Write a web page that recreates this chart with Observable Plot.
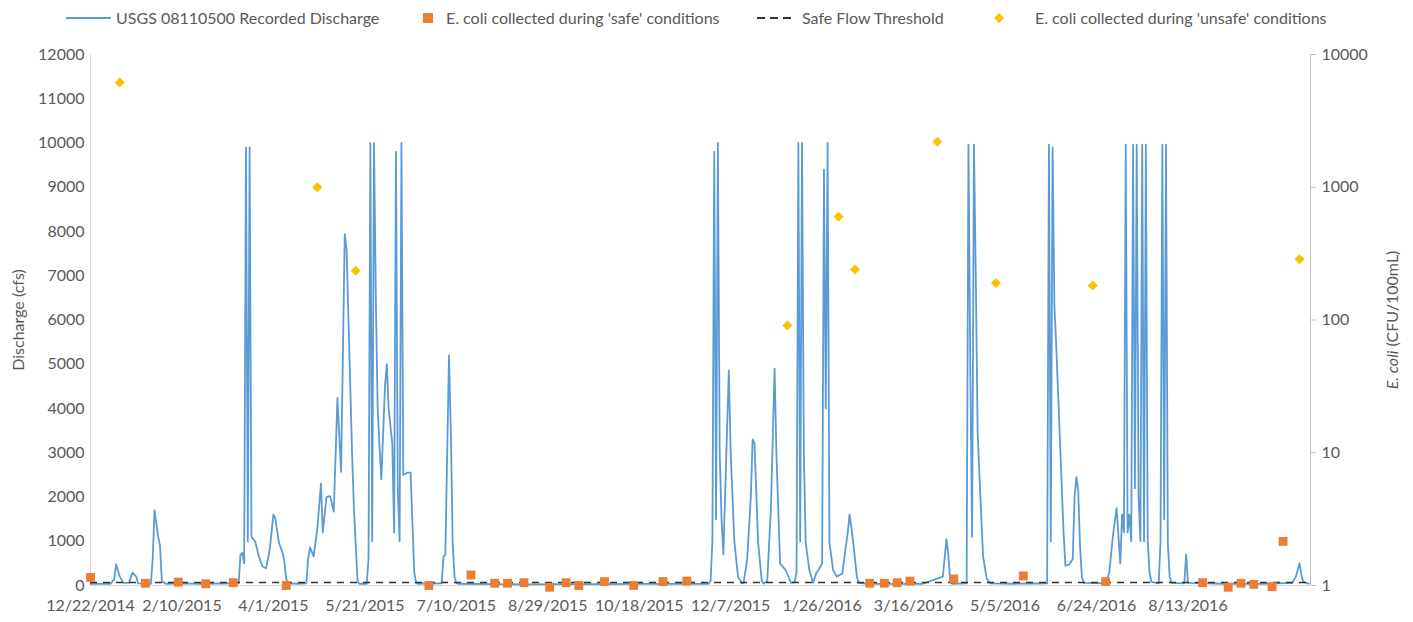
<!DOCTYPE html>
<html><head><meta charset="utf-8">
<script src="https://cdn.jsdelivr.net/npm/d3@7"></script>
<script src="https://cdn.jsdelivr.net/npm/@observablehq/plot@0.6"></script>
<style>
body{margin:0;background:#fff;font-family:Lato,sans-serif;color:#595959;}
#wrap{position:relative;width:1413px;height:622px;overflow:hidden;}
#legend{position:relative;height:36px;width:1413px;font-size:16px;}
.li{position:absolute;top:0;height:36px;line-height:36px;white-space:nowrap;}
#chart svg{display:block;}
</style></head><body>
<div id="wrap"><div id="legend"></div><div id="chart"></div></div>
<script>
// ---------- data ----------
const dischargeDates = ["2014-12-22","2014-12-27","2015-01-02","2015-01-04","2015-01-05","2015-01-07","2015-01-09","2015-01-12","2015-01-14","2015-01-16","2015-01-17","2015-01-24","2015-01-25","2015-01-26","2015-01-28","2015-01-29","2015-01-30","2015-02-01","2015-02-10","2015-02-20","2015-03-02","2015-03-13","2015-03-14","2015-03-15","2015-03-16","2015-03-17","2015-03-18","2015-03-19","2015-03-20","2015-03-22","2015-03-24","2015-03-26","2015-03-28","2015-03-30","2015-04-01","2015-04-02","2015-04-04","2015-04-06","2015-04-07","2015-04-08","2015-04-09","2015-04-14","2015-04-19","2015-04-20","2015-04-21","2015-04-23","2015-04-25","2015-04-27","2015-04-28","2015-04-30","2015-05-02","2015-05-04","2015-05-06","2015-05-08","2015-05-10","2015-05-11","2015-05-14","2015-05-15","2015-05-17","2015-05-18","2015-05-22","2015-05-23","2015-05-24","2015-05-25","2015-05-26","2015-05-27","2015-05-28","2015-05-29","2015-05-30","2015-06-01","2015-06-02","2015-06-03","2015-06-05","2015-06-06","2015-06-07","2015-06-08","2015-06-09","2015-06-10","2015-06-11","2015-06-13","2015-06-15","2015-06-17","2015-06-18","2015-06-19","2015-06-25","2015-07-02","2015-07-03","2015-07-04","2015-07-06","2015-07-07","2015-07-08","2015-07-09","2015-07-10","2015-07-11","2015-07-30","2015-08-19","2015-09-08","2015-09-28","2015-10-18","2015-11-07","2015-11-25","2015-11-26","2015-11-27","2015-11-28","2015-11-29","2015-11-30","2015-12-01","2015-12-02","2015-12-03","2015-12-05","2015-12-06","2015-12-07","2015-12-09","2015-12-11","2015-12-13","2015-12-14","2015-12-16","2015-12-18","2015-12-19","2015-12-20","2015-12-22","2015-12-24","2015-12-25","2015-12-27","2015-12-29","2015-12-31","2016-01-01","2016-01-02","2016-01-03","2016-01-06","2016-01-09","2016-01-11","2016-01-12","2016-01-13","2016-01-14","2016-01-15","2016-01-16","2016-01-17","2016-01-19","2016-01-21","2016-01-23","2016-01-24","2016-01-26","2016-01-27","2016-01-28","2016-01-29","2016-01-30","2016-02-01","2016-02-03","2016-02-06","2016-02-09","2016-02-10","2016-02-11","2016-02-12","2016-02-14","2016-02-15","2016-02-20","2016-03-06","2016-03-21","2016-04-01","2016-04-03","2016-04-04","2016-04-05","2016-04-06","2016-04-14","2016-04-15","2016-04-16","2016-04-17","2016-04-18","2016-04-19","2016-04-20","2016-04-21","2016-04-23","2016-04-25","2016-04-27","2016-05-10","2016-05-20","2016-05-28","2016-05-29","2016-05-30","2016-05-31","2016-06-01","2016-06-02","2016-06-04","2016-06-06","2016-06-07","2016-06-09","2016-06-11","2016-06-12","2016-06-13","2016-06-14","2016-06-15","2016-06-16","2016-06-17","2016-06-29","2016-07-01","2016-07-03","2016-07-05","2016-07-07","2016-07-08","2016-07-09","2016-07-10","2016-07-11","2016-07-12","2016-07-13","2016-07-14","2016-07-15","2016-07-16","2016-07-17","2016-07-18","2016-07-19","2016-07-20","2016-07-21","2016-07-22","2016-07-23","2016-07-24","2016-07-28","2016-07-29","2016-07-30","2016-07-31","2016-08-01","2016-08-02","2016-08-03","2016-08-04","2016-08-11","2016-08-12","2016-08-13","2016-09-02","2016-09-22","2016-10-09","2016-10-11","2016-10-13","2016-10-14","2016-10-15","2016-10-18"];
const dischargeValues = [40,35,40,150,480,200,60,60,290,200,50,40,600,1700,1100,900,100,40,50,35,45,50,700,740,500,9900,1000,9900,1100,1000,660,430,390,820,1600,1520,970,740,545,150,50,40,50,600,860,660,1280,2300,1200,2000,2020,1670,4240,2570,7940,7600,3000,1750,100,40,40,600,10000,1000,10000,6500,4000,3150,2400,4500,5000,4000,3200,1200,9800,2200,1000,10000,2500,2550,2550,300,60,40,45,50,660,700,5200,3500,970,200,60,40,30,25,30,30,35,35,40,100,1000,9800,1500,10000,3000,1500,700,3500,4860,3000,1000,200,60,50,580,2000,3300,3230,970,100,40,100,1750,4900,3000,1750,500,350,60,80,300,10000,1000,10000,3000,970,350,60,300,350,500,9400,4000,10000,970,350,200,270,1200,1600,1300,970,200,60,40,35,40,200,1050,700,100,40,50,9960,4900,1100,9960,7000,3500,2500,660,150,50,40,45,50,9960,1000,9900,6300,5400,3300,1200,450,470,600,2000,2450,2140,900,200,60,50,300,1130,1750,500,1600,1200,9960,1200,1600,1000,9960,2200,9960,2000,1000,9960,1000,9960,1000,300,80,50,1000,9960,1500,9960,970,200,60,50,700,60,40,35,60,200,500,250,80,40];

const safeDates = ["2014-12-22","2015-01-21","2015-02-08","2015-02-23","2015-03-10","2015-04-08","2015-06-25","2015-07-18","2015-07-31","2015-08-07","2015-08-16","2015-08-30","2015-09-08","2015-09-15","2015-09-29","2015-10-15","2015-10-31","2015-11-13","2016-02-21","2016-02-29","2016-03-07","2016-03-14","2016-04-07","2016-05-15","2016-06-29","2016-08-21","2016-09-04","2016-09-11","2016-09-18","2016-09-28","2016-10-04"];
const safeEcoli = [1.15,1.04,1.06,1.03,1.05,1.0,1.0,1.2,1.04,1.04,1.05,0.97,1.05,1.0,1.07,1.0,1.07,1.08,1.04,1.04,1.05,1.08,1.12,1.18,1.07,1.05,0.97,1.04,1.02,0.98,2.15];

const unsafeDates = ["2015-01-07","2015-04-25","2015-05-16","2016-01-07","2016-02-04","2016-02-13","2016-03-29","2016-04-30","2016-06-22","2016-10-13"];
const unsafeEcoli = [6150,1000,235,91,600,240,2200,190,182,287];

const safeFlowThreshold = 70;
const xTickLabels = ["12/22/2014","2/10/2015","4/1/2015","5/21/2015","7/10/2015","8/29/2015","10/18/2015","12/7/2015","1/26/2016","3/16/2016","5/5/2016","6/24/2016","8/13/2016"];
const dischargeTicks = [0,1000,2000,3000,4000,5000,6000,7000,8000,9000,10000,11000,12000];
const ecoliTicks = [1,10,100,1000,10000];
const xDomain = ["2014-12-22","2016-10-19"];

// ---------- build ----------
const parse = d3.utcParse("%m/%d/%Y");
const fmt = d3.utcFormat("%-m/%-d/%Y");
const toDate = s => new Date(s + "T00:00:00Z");
const discharge = dischargeDates.map((d, i) => ({date: toDate(d), q: dischargeValues[i]}));
const safe = safeDates.map((d, i) => ({date: toDate(d), e: safeEcoli[i]}));
const unsafe = unsafeDates.map((d, i) => ({date: toDate(d), e: unsafeEcoli[i]}));
// the right (log) axis shares the frame: 1 -> 0, 10000 -> 12000
const ecoliToLeft = e => Math.log10(e) * 3000;

const plot = Plot.plot({
  width: 1413, height: 586,
  marginLeft: 90, marginRight: 103, marginTop: 18, marginBottom: 37,
  style: {fontFamily: "Lato, sans-serif", fontSize: "16px", color: "#595959", background: "white", overflow: "visible"},
  x: {type: "utc", domain: xDomain.map(toDate)},
  y: {domain: [0, 12000]},
  marks: [
    Plot.ruleY([0], {stroke: "#d9d9d9"}),
    Plot.ruleX([toDate(xDomain[0])], {y1: 0, y2: 12000, stroke: "#d9d9d9"}),
    Plot.ruleX([toDate(xDomain[1])], {y1: 0, y2: 12000, stroke: "#bfbfbf"}),
    Plot.axisY({anchor: "left", ticks: dischargeTicks, tickFormat: d => String(d), tickSize: 0, tickPadding: 6, label: null}),
    Plot.axisY({anchor: "right", ticks: ecoliTicks.map(ecoliToLeft), tickFormat: d => String(ecoliTicks[Math.round(d / 3000)]), tickSize: 5, tickPadding: 6, stroke: "#bfbfbf", label: null}),
    Plot.axisX({ticks: xTickLabels.map(parse), tickFormat: fmt, tickSize: 0, tickPadding: 14, label: null}),
    Plot.line(discharge, {x: "date", y: "q", stroke: "#5B9BD5", strokeWidth: 1.8}),
    Plot.ruleY([safeFlowThreshold], {stroke: "#333333", strokeWidth: 1.5, strokeDasharray: "7,6"}),
    Plot.dot(safe, {x: "date", y: d => ecoliToLeft(d.e), symbol: "square", r: 5, fill: "#ED7D31", stroke: null}),
    Plot.dot(unsafe, {x: "date", y: d => ecoliToLeft(d.e), symbol: "diamond2", r: 4.5, fill: "#FFC000", stroke: null})
  ]
});
document.getElementById("chart").appendChild(plot);

// axis titles
const svg = d3.select(plot);
svg.append("text").attr("transform", "translate(18,284) rotate(-90)")
  .attr("text-anchor", "middle").attr("dy", "0.35em").attr("fill", "#595959").attr("font-size", 16)
  .text("Discharge (cfs)");
const rt = svg.append("text").attr("transform", "translate(1392,284) rotate(-90)")
  .attr("text-anchor", "middle").attr("dy", "0.35em").attr("fill", "#595959").attr("font-size", 16);
rt.append("tspan").attr("font-style", "italic").text("E. coli");
rt.append("tspan").text(" (CFU/100mL)");

// legend (HTML above the svg)
const legend = document.getElementById("legend");
const items = [
  {x: 66, w: 45, sym: '<line x1="0" y1="18" x2="45" y2="18" stroke="#5B9BD5" stroke-width="2"/>', tx: 116, label: "USGS 08110500 Recorded Discharge"},
  {x: 423, w: 10, sym: '<rect x="0" y="13" width="10" height="10" fill="#ED7D31"/>', tx: 446, label: "E. coli collected during 'safe' conditions"},
  {x: 757, w: 38, sym: '<line x1="0" y1="18" x2="38" y2="18" stroke="#333" stroke-width="2" stroke-dasharray="8,5"/>', tx: 802, label: "Safe Flow Threshold"},
  {x: 994, w: 10, sym: '<polygon points="5,13 10,18 5,23 0,18" fill="#FFC000"/>', tx: 1035, label: "E. coli collected during 'unsafe' conditions"}
];
for (const it of items) {
  const s = document.createElement("div");
  s.className = "li"; s.style.left = it.x + "px";
  s.innerHTML = `<svg width="${it.w}" height="36" style="display:block">${it.sym}</svg>`;
  legend.appendChild(s);
  const t = document.createElement("div");
  t.className = "li"; t.style.left = it.tx + "px";
  t.textContent = it.label;
  legend.appendChild(t);
}
</script>
</body></html>
